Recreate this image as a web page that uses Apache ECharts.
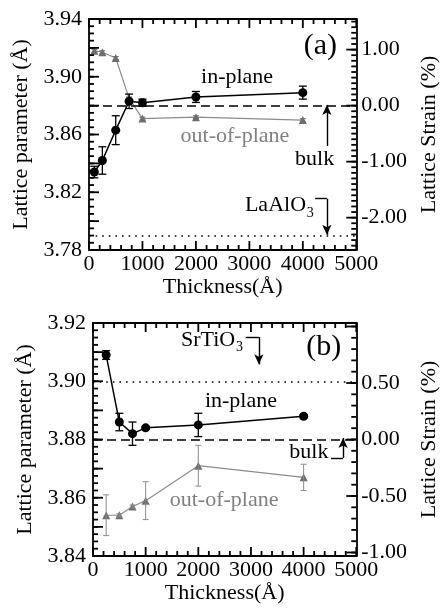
<!DOCTYPE html>
<html><head><meta charset="utf-8">
<script src="https://cdn.jsdelivr.net/npm/echarts@6/dist/echarts.min.js"></script>
<style>html,body{margin:0;padding:0;background:#fff}#c{width:448px;height:608px}</style>
</head><body><div id="c"></div>
<script>
// ---------- Panel (a): film on LaAlO3 ----------
const A_THICK = [100, 250, 500, 750, 1000, 2000, 4000];
const A_IN = [3.834, 3.842, 3.863, 3.883, 3.882, 3.886, 3.889];
const A_IN_ERR = [0.004, 0.0095, 0.010, 0.005, 0.0025, 0.0038, 0.0045];
const A_OUT = [3.918, 3.917, 3.913, 3.885, 3.871, 3.872, 3.870];
const A_OUT_ERR = [0.001, 0.001, 0.001, 0.001, 0.001, 0.001, 0.001];
const A_BULK = 3.880;
const A_SUBSTRATE = 3.790;      // LaAlO3
const A_Y_LABELS = [3.78, 3.82, 3.86, 3.90, 3.94];
const A_STRAIN_LABELS = [-2, -1, 0, 1];

// ---------- Panel (b): film on SrTiO3 ----------
const B_THICK = [250, 500, 750, 1000, 2000, 4000];
const B_IN = [3.909, 3.886, 3.882, 3.884, 3.885, 3.888];
const B_IN_ERR = [0.0015, 0.003, 0.004, 0.0005, 0.004, 0.0005];
const B_OUT = [3.854, 3.854, 3.857, 3.859, 3.871, 3.867];
const B_OUT_ERR = [0.007, 0.0005, 0.0005, 0.0065, 0.007, 0.0045];
const B_BULK = 3.880;
const B_SUBSTRATE = 3.905;      // SrTiO3
const B_Y_LABELS = [3.84, 3.86, 3.88, 3.90, 3.92];
const B_STRAIN_LABELS = [-1, -0.5, 0, 0.5];

const X_LABELS = [0, 1000, 2000, 3000, 4000, 5000];

const FONT = '"Liberation Serif", "DejaVu Serif", serif';
const GRAY_LINE = '#8c8c8c', GRAY_SYM = '#6e6e6e', GRAY_TXT = '#808080';

const zip = (xs, ys, es) => xs.map((x, i) => es ? [x, ys[i], es[i]] : [x, ys[i]]);
const strain = (v, bulk) => (v - bulk) / bulk * 100;
const unstrain = (s, bulk) => bulk * (1 + s / 100);
const range = (a, b, s) => { const r = []; const n = Math.round((b - a) / s); for (let i = 0; i <= n; i++) r.push(a + i * s); return r; };
const isIn = (list, v) => list.some(l => Math.abs(l - v) < 1e-6);

const chart = echarts.init(document.getElementById('c'), null, {renderer: 'canvas'});

const grids = [
  {left: 89, top: 19, width: 282, height: 231},
  {left: 93, top: 323, width: 283, height: 233}
];

const lblStyle = {fontFamily: FONT, fontSize: 22, color: '#000'};
const nameStyle = {fontFamily: FONT, fontSize: 22, color: '#000'};
const AXLINE = {show: true, onZero: false, lineStyle: {color: '#000', width: 1.8}};

function xAx(g, pos, main) {
  return {
    type: 'value', gridIndex: g, position: pos, min: 0, max: 5000, interval: 1000,
    axisLine: AXLINE, axisTick: {show: false}, splitLine: {show: false},
    axisLabel: Object.assign({show: main, margin: 3, formatter: v => isIn(X_LABELS, v) ? String(v) : ''}, lblStyle),
    name: main ? 'Thickness(Å)' : '', nameLocation: 'middle', nameGap: 24, nameTextStyle: nameStyle
  };
}
function yLeft(g, min, max, interval, labels) {
  return {
    type: 'value', gridIndex: g, position: 'left', min: min, max: max, interval: interval,
    axisLine: AXLINE, axisTick: {show: false}, splitLine: {show: false},
    axisLabel: Object.assign({margin: 7, formatter: v => isIn(labels, v) ? Number(v).toFixed(2) : ''}, lblStyle),
    name: 'Lattice parameter (Å)', nameLocation: 'middle', nameRotate: 90, nameGap: 45, nameTextStyle: nameStyle
  };
}
function yRight(g, min, max, labels) {
  return {
    type: 'value', gridIndex: g, position: 'right', min: min, max: max,
    axisLine: AXLINE, axisTick: {show: false}, splitLine: {show: false},
    axisLabel: Object.assign({margin: 5, customValues: labels, formatter: v => Number(v).toFixed(2)}, lblStyle),
    name: 'Lattice Strain (%)', nameLocation: 'middle', nameRotate: 90, nameGap: 56, nameTextStyle: nameStyle
  };
}

function errSeries(xi, yi, data, color, cap, width) {
  return {
    type: 'custom', xAxisIndex: xi, yAxisIndex: yi, data: data, silent: true, z: 3,
    encode: {x: 0, y: 1},
    renderItem: function (params, api) {
      const x = api.value(0), y = api.value(1), e = api.value(2);
      const p1 = api.coord([x, y + e]), p2 = api.coord([x, y - e]);
      const s = {stroke: color, lineWidth: width};
      return {type: 'group', children: [
        {type: 'line', shape: {x1: p1[0], y1: p1[1], x2: p2[0], y2: p2[1]}, style: s},
        {type: 'line', shape: {x1: p1[0] - cap, y1: p1[1], x2: p1[0] + cap, y2: p1[1]}, style: s},
        {type: 'line', shape: {x1: p2[0] - cap, y1: p2[1], x2: p2[0] + cap, y2: p2[1]}, style: s}
      ]};
    }
  };
}
const DASH = {type: [9, 5], color: '#000', width: 1.6};
const DOT = {type: [1.6, 5], color: '#000', width: 1.6};
const ARROWLINE = {type: 'solid', color: '#000', width: 1.4};
function refLines(bulk, sub) {
  return {
    silent: true, symbol: 'none', label: {show: false}, emphasis: {disabled: true}, animation: false,
    data: [{yAxis: bulk, lineStyle: DASH}, {yAxis: sub, lineStyle: DOT}]
  };
}
function seg(p, q, arrow) {
  return [
    {coord: p, symbol: 'none', lineStyle: ARROWLINE},
    {coord: q, symbol: arrow ? 'arrow' : 'none', symbolSize: [7, 10]}
  ];
}

const aMinS = strain(3.78, A_BULK), aMaxS = strain(3.94, A_BULK);
const bMinS = strain(3.84, B_BULK), bMaxS = strain(3.92, B_BULK);

const X_MAJOR = range(0, 5000, 1000);
const X_MINOR = range(0, 5000, 200).filter(v => !isIn(X_MAJOR, v));
const A_TICKS = {
  xi: 0, yi: 0, yMin: 3.78, yMax: 3.94, bulk: A_BULK, xMajor: X_MAJOR, xMinor: X_MINOR,
  yMajor: range(3.78, 3.94, 0.02), yMinor: range(3.78, 3.94, 0.005),
  sMajor: A_STRAIN_LABELS, sMinor: range(-2.5, 1.5, 0.1)
};
const B_TICKS = {
  xi: 2, yi: 2, yMin: 3.84, yMax: 3.92, bulk: B_BULK, xMajor: X_MAJOR, xMinor: X_MINOR,
  yMajor: range(3.84, 3.92, 0.01), yMinor: range(3.84, 3.92, 0.0025),
  sMajor: [-1, -0.5, 0, 0.5, 1], sMinor: range(-1, 1, 0.1)
};

const option = {
  animation: false,
  backgroundColor: '#fff',
  grid: grids,
  xAxis: [xAx(0, 'bottom', true), xAx(0, 'top', false), xAx(1, 'bottom', true), xAx(1, 'top', false)],
  yAxis: [
    yLeft(0, 3.78, 3.94, 0.02, A_Y_LABELS),
    yRight(0, aMinS, aMaxS, A_STRAIN_LABELS),
    yLeft(1, 3.84, 3.92, 0.01, B_Y_LABELS),
    yRight(1, bMinS, bMaxS, B_STRAIN_LABELS)
  ],
  series: [
    {type: 'line', xAxisIndex: 0, yAxisIndex: 0, data: zip(A_THICK, A_OUT), z: 2,
     symbol: 'triangle', symbolSize: 8, itemStyle: {color: GRAY_SYM},
     lineStyle: {color: GRAY_LINE, width: 1.2}, markLine: refLines(A_BULK, A_SUBSTRATE)},
    errSeries(0, 0, zip(A_THICK, A_OUT, A_OUT_ERR), GRAY_SYM, 3, 1),
    {type: 'line', xAxisIndex: 0, yAxisIndex: 0, data: zip(A_THICK, A_IN), z: 4,
     symbol: 'circle', symbolSize: 9, itemStyle: {color: '#000'},
     lineStyle: {color: '#000', width: 1.5}},
    errSeries(0, 0, zip(A_THICK, A_IN, A_IN_ERR), '#000', 4, 1.3),
    {type: 'line', xAxisIndex: 0, yAxisIndex: 0, data: [], silent: true,
     markLine: {silent: true, label: {show: false}, emphasis: {disabled: true}, lineStyle: ARROWLINE,
       data: [
         seg([4450, 3.852], [4450, 3.8805], true),
         seg([4230, 3.8155], [4450, 3.8155], false),
         seg([4450, 3.8155], [4450, 3.7905], true)
       ]}},
    {type: 'line', xAxisIndex: 2, yAxisIndex: 2, data: zip(B_THICK, B_OUT), z: 2,
     symbol: 'triangle', symbolSize: 8, itemStyle: {color: GRAY_SYM},
     lineStyle: {color: GRAY_LINE, width: 1.2}, markLine: refLines(B_BULK, B_SUBSTRATE)},
    errSeries(2, 2, zip(B_THICK, B_OUT, B_OUT_ERR), GRAY_LINE, 3, 1),
    {type: 'line', xAxisIndex: 2, yAxisIndex: 2, data: zip(B_THICK, B_IN), z: 4,
     symbol: 'circle', symbolSize: 9, itemStyle: {color: '#000'},
     lineStyle: {color: '#000', width: 1.5}},
    errSeries(2, 2, zip(B_THICK, B_IN, B_IN_ERR), '#000', 4, 1.3),
    {type: 'line', xAxisIndex: 2, yAxisIndex: 2, data: [], silent: true,
     markLine: {silent: true, label: {show: false}, emphasis: {disabled: true}, lineStyle: ARROWLINE,
       data: [
         seg([2900, 3.9152], [3150, 3.9152], false),
         seg([3150, 3.9152], [3150, 3.9058], true),
         seg([4520, 3.8737], [4750, 3.8737], false),
         seg([4750, 3.8737], [4750, 3.8805], true)
       ]}}
  ]
};
chart.setOption(option);

// Inward tick marks as thin filled bars, positioned through the axes' scales (convertToPixel)
function ticks(cfg) {
  const out = [];
  const W = 1.8;
  const px = (x, y) => chart.convertToPixel({xAxisIndex: cfg.xi, yAxisIndex: cfg.yi}, [x, y]);
  const bar = (x, y, w, h) => out.push({type: 'rect', silent: true, z: 20,
    shape: {x: x, y: y, width: w, height: h}, style: {fill: '#000'}});
  const top = px(0, cfg.yMax)[1], bottom = px(0, cfg.yMin)[1];
  const left = px(0, cfg.yMin)[0], right = px(5000, cfg.yMin)[0];
  const vt = (p, len) => { bar(p - W / 2, bottom - len, W, len); bar(p - W / 2, top, W, len); };
  cfg.xMajor.forEach(v => vt(px(v, cfg.yMin)[0], 9));
  cfg.xMinor.forEach(v => vt(px(v, cfg.yMin)[0], 5));
  cfg.yMajor.forEach(v => { const p = px(0, v)[1]; bar(left, p - W / 2, 10, W); });
  cfg.yMinor.forEach(v => { const p = px(0, v)[1]; bar(left, p - W / 2, 5, W); });
  cfg.sMajor.forEach(s => { const p = px(0, unstrain(s, cfg.bulk))[1]; bar(right - 10, p - W / 2, 10, W); });
  cfg.sMinor.forEach(s => { const p = px(0, unstrain(s, cfg.bulk))[1]; bar(right - 5, p - W / 2, 5, W); });
  return out;
}

function txt(g, x, y, text, size, color, align) {
  const p = chart.convertToPixel({xAxisIndex: g === 0 ? 0 : 2, yAxisIndex: g === 0 ? 0 : 2}, [x, y]);
  return {type: 'text', x: p[0], y: p[1], silent: true, z: 10,
    style: {text: text, font: size + 'px ' + FONT, fill: color || '#000', align: align || 'center', verticalAlign: 'middle'}};
}
chart.setOption({graphic: [].concat(ticks(A_TICKS), ticks(B_TICKS), [
  txt(0, 4330, 3.921, '(a)', 30),
  txt(0, 2770, 3.8995, 'in-plane', 22),
  txt(0, 2730, 3.8586, 'out-of-plane', 22, GRAY_TXT),
  txt(0, 4220, 3.8427, 'bulk', 22),
  txt(0, 4060, 3.811, 'LaAlO', 22, '#000', 'right'),
  txt(0, 4075, 3.8055, '3', 14, '#000', 'left'),
  txt(1, 4380, 3.9118, '(b)', 30),
  txt(1, 2700, 3.9142, 'SrTiO', 22, '#000', 'right'),
  txt(1, 2715, 3.9118, '3', 14, '#000', 'left'),
  txt(1, 2810, 3.893, 'in-plane', 22),
  txt(1, 2490, 3.8592, 'out-of-plane', 22, GRAY_TXT),
  txt(1, 4100, 3.8755, 'bulk', 22)
])});
</script></body></html>
